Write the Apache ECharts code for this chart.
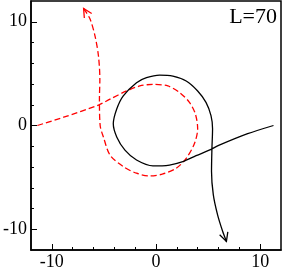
<!DOCTYPE html>
<html><head><meta charset="utf-8">
<script src="https://cdn.jsdelivr.net/npm/echarts@6/dist/echarts.min.js"></script>
<style>html,body{margin:0;padding:0;background:#fff}#c{width:284px;height:271px}</style>
</head><body><div id="c"></div>
<script>
var blackX = [11.28, 8.8, 6.07, 5.11, 3.85, 2.57, 1.3, -0.29, -1.87, -2.98, -3.77, -4.1, -3.77, -3.14, -1.87, -0.91, 0.35, 1.62, 2.9, 4.0, 4.8, 5.28, 5.43, 5.37, 5.33, 5.5, 5.9, 6.38, 6.76];
var blackY = [0, -0.79, -1.9, -2.38, -2.91, -3.49, -3.81, -3.9, -3.33, -2.38, -1.1, 0.16, 1.59, 2.86, 4.13, 4.61, 4.86, 4.76, 4.29, 3.33, 2.23, 0.95, -0.31, -2.22, -4.44, -6.67, -8.57, -10.15, -11.17];
var redX = [-11.39, -8.86, -5.52, -4.41, -2.82, -1.55, -0.29, 1.14, 2.26, 3.21, 3.78, 4.0, 3.69, 2.9, 1.94, 0.67, -0.6, -1.87, -3.14, -4.41, -5.05, -5.36, -5.43, -5.39, -5.52, -5.84, -6.31, -6.74, -6.95];
var redY = [0, 0.8, 1.97, 2.54, 3.33, 3.81, 3.97, 3.81, 3.18, 2.23, 1.11, -0.31, -1.74, -3.17, -4.12, -4.67, -4.86, -4.6, -3.96, -2.86, -1.1, 0, 2.54, 4.45, 6.67, 8.57, 10.22, 10.97, 11.28];
var majorTicks = [-10, 0, 10];
var minorTicks = [-8, -6, -4, -2, 2, 4, 6, 8];
var panelLabel = 'L=70';

function pairs(xs, ys){ return xs.map(function(x,i){ return [x, ys[i]]; }); }
function arrow(xs, ys, back, color){
  var n = xs.length;
  return {
    type: 'custom', clip: false, silent: true,
    data: [[xs[n-1], ys[n-1]]],
    renderItem: function(params, api){
      var tip = api.coord([xs[n-1], ys[n-1]]);
      var prev = api.coord([xs[n-1-back], ys[n-1-back]]);
      var dx = tip[0]-prev[0], dy = tip[1]-prev[1];
      var len = Math.sqrt(dx*dx+dy*dy); dx/=len; dy/=len;
      var L = 8.5, W = 4.3;
      var bx = tip[0]-dx*L, by = tip[1]-dy*L;
      return {type:'polyline', shape:{points:[[bx-dy*W, by+dx*W], tip, [bx+dy*W, by-dx*W]]},
        style:{stroke:color, fill:null, lineWidth:1.3}};
    }
  };
}
var font = {fontFamily:'Liberation Serif', fontSize:18, color:'#000'};
function axis(isX, major){
  return {
    type:'value', min:-12, max:12, position: isX ? 'bottom':'left',
    splitLine:{show:false},
    axisLine:{show:major, onZero:false, lineStyle:{color:'#000', width:1.5}},
    axisTick:{show:true, inside:true, length: major ? 6 : 3, customValues: major ? majorTicks : minorTicks, lineStyle:{color:'#000', width:1}},
    axisLabel: major ? Object.assign({show:true, margin: isX ? 3 : 4, customValues: majorTicks}, font) : {show:false}
  };
}
var chart = echarts.init(document.getElementById('c'), null, {renderer:'canvas'});
chart.setOption({
  animation:false,
  grid:{left:30, right:3, top:1, bottom:18, show:true, borderColor:'#000', borderWidth:1.5, backgroundColor:'transparent'},
  xAxis:[axis(true,true), axis(true,false)],
  yAxis:[axis(false,true), axis(false,false)],
  graphic:[{type:'text', right:7, top:6, style:{text:panelLabel, font:'22px "Liberation Serif"', fill:'#000'}}],
  series:[
    {type:'line', data:pairs(redX, redY), showSymbol:false, smooth:0.3, lineStyle:{color:'#ff0000', width:1.3, type:[6,3]}},
    {type:'line', data:pairs(blackX, blackY), showSymbol:false, smooth:0.3, lineStyle:{color:'#000', width:1.3}},
    arrow(blackX, blackY, 2, '#000'),
    arrow(redX, redY, 2, '#ff0000')
  ]
});
</script></body></html>
